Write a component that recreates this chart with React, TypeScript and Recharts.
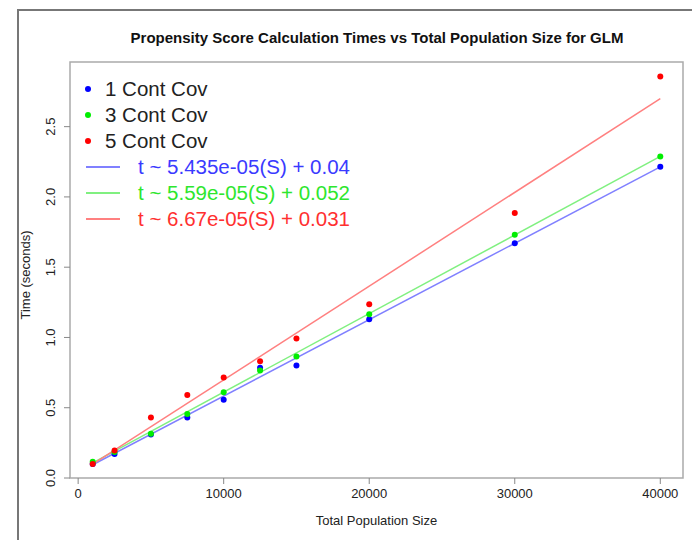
import { ComposedChart, Scatter, Line, XAxis, YAxis, ReferenceArea, Legend } from 'recharts'

const popSizes = [1000, 2500, 5000, 7500, 10000, 12500, 15000, 20000, 30000, 40000]
const cov1Times = [0.1, 0.17, 0.31, 0.43, 0.557, 0.785, 0.8, 1.13, 1.67, 2.214]
const cov3Times = [0.115, 0.185, 0.315, 0.455, 0.61, 0.765, 0.865, 1.165, 1.73, 2.288]
const cov5Times = [0.1, 0.195, 0.43, 0.59, 0.715, 0.83, 0.993, 1.236, 1.886, 2.857]

// fitted lines, read at the two ends of the x range
const fitX = [1000, 40000]
const fit1 = [0.094, 2.214]
const fit3 = [0.108, 2.288]
const fit5 = [0.098, 2.699]

const xTicks = [0, 10000, 20000, 30000, 40000]
const yTicks = [0, 0.5, 1, 1.5, 2, 2.5]

const FONT = '"Liberation Sans", Arial, sans-serif'

const series = [
  { name: '1 Cont Cov', times: cov1Times, fit: fit1, dot: '#0000ff', line: '#8080ff', text: '#3a3aff', label: 't ~ 5.435e-05(S) + 0.04' },
  { name: '3 Cont Cov', times: cov3Times, fit: fit3, dot: '#00ee00', line: '#80f080', text: '#2ee62e', label: 't ~ 5.59e-05(S) + 0.052' },
  { name: '5 Cont Cov', times: cov5Times, fit: fit5, dot: '#ff0000', line: '#ff8080', text: '#ff3030', label: 't ~ 6.67e-05(S) + 0.031' },
]

const toPoints = (xs: number[], ys: number[]) => xs.map((x, i) => ({ x, y: ys[i] }))

const Dot = (props: any) => <circle cx={props.cx} cy={props.cy} r={3} fill={props.fill} />

const YTick = ({ x, y, payload }: any) => {
  const cx = x - 12
  return (
    <text x={cx} y={y} dy="0.35em" textAnchor="middle" fontSize={13} fill="#222" fontFamily={FONT}
      transform={`rotate(-90, ${cx}, ${y})`}>
      {payload.value.toFixed(1)}
    </text>
  )
}

const YLabel = () => (
  <text x={25} y={275} dy="0.35em" textAnchor="middle" fontSize={13} fill="#222" fontFamily={FONT}
    transform="rotate(-90, 25, 275)">
    Time (seconds)
  </text>
)

const LegendBox = () => (
  <div style={{ fontFamily: FONT, fontSize: 20.5, lineHeight: '26px' }}>
    {series.map((s) => (
      <div key={s.name} style={{ display: 'flex', alignItems: 'center', height: 26 }}>
        <div style={{ width: 6, height: 6, borderRadius: 3, background: s.dot, marginLeft: 7, marginRight: 14 }} />
        <span style={{ color: '#222' }}>{s.name}</span>
      </div>
    ))}
    {series.map((s) => (
      <div key={s.label} style={{ display: 'flex', alignItems: 'center', height: 26 }}>
        <div style={{ width: 34, height: 1.5, background: s.line, marginLeft: 8, marginRight: 18 }} />
        <span style={{ color: s.text }}>{s.label}</span>
      </div>
    ))}
  </div>
)

export default function App() {
  return (
    <div style={{ position: 'absolute', left: 0, top: 0, width: 692, height: 540, background: '#fff', overflow: 'hidden' }}>
      <div style={{ position: 'absolute', left: 17, top: 9, width: 700, height: 560, borderLeft: '2px solid #777', borderTop: '2px solid #777' }} />
      <div style={{ position: 'absolute', left: 0, width: 754, top: 29, textAlign: 'center', fontFamily: FONT, fontWeight: 'bold', fontSize: 15, color: '#111' }}>
        Propensity Score Calculation Times vs Total Population Size for GLM
      </div>
      <div style={{ position: 'absolute', left: 0, top: 0 }}>
        <ComposedChart width={692} height={540} margin={{ top: 62, right: 9, bottom: 12, left: 10 }}>
          <XAxis dataKey="x" type="number" domain={[-560, 41560]} ticks={xTicks} allowDataOverflow
            axisLine={false} tickLine={{ stroke: '#888' }} tickSize={6} tickMargin={5} height={50}
            tick={{ fontSize: 13, fill: '#222', fontFamily: FONT }}
            label={{ value: 'Total Population Size', position: 'insideBottom', offset: 3, fontSize: 13, fill: '#222', fontFamily: FONT }} />
          <YAxis dataKey="y" type="number" domain={[0, 2.96]} ticks={yTicks} allowDataOverflow width={60}
            axisLine={false} tickLine={{ stroke: '#888' }} tickSize={6} tickMargin={2} tick={<YTick />}
            label={<YLabel />} />
          <ReferenceArea x1={-560} x2={41560} y1={0} y2={2.96} fill="none" stroke="#aaa" strokeWidth={1.5} ifOverflow="visible" />
          {series.map((s) => (
            <Line key={s.name + 'fit'} data={toPoints(fitX, s.fit)} dataKey="y" stroke={s.line} strokeWidth={1.5}
              dot={false} isAnimationActive={false} legendType="none" />
          ))}
          {series.map((s) => (
            <Scatter key={s.name} name={s.name} data={toPoints(popSizes, s.times)} dataKey="y" fill={s.dot}
              shape={<Dot />} isAnimationActive={false} />
          ))}
          <Legend content={<LegendBox />} layout="vertical" verticalAlign="middle" align="center"
            wrapperStyle={{ left: 78, top: 76, width: 320 }} />
        </ComposedChart>
      </div>
    </div>
  )
}
